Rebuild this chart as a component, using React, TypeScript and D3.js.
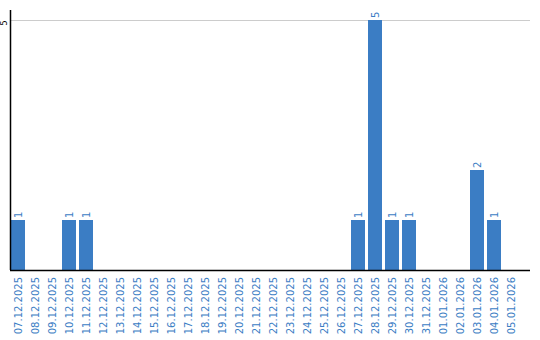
import React from "react";
import * as d3 from "d3";

const categories = [
  "07.12.2025","08.12.2025","09.12.2025","10.12.2025","11.12.2025","12.12.2025",
  "13.12.2025","14.12.2025","15.12.2025","16.12.2025","17.12.2025","18.12.2025",
  "19.12.2025","20.12.2025","21.12.2025","22.12.2025","23.12.2025","24.12.2025",
  "25.12.2025","26.12.2025","27.12.2025","28.12.2025","29.12.2025","30.12.2025",
  "31.12.2025","01.01.2026","02.01.2026","03.01.2026","04.01.2026","05.01.2026",
];
const values = [1,0,0,1,1,0,0,0,0,0,0,0,0,0,0,0,0,0,0,0,1,5,1,1,0,0,0,2,1,0];
const yTicks = [5];

const W = 540, H = 340;
const left = 11, right = 530, top = 10, bottom = 270;
const blue = "#3b7dc4";
const font = "DejaVu Sans, Verdana, sans-serif";

export default function App() {
  const x = d3.scaleBand<string>().domain(categories).range([left, left + 17 * categories.length - 3]).paddingInner(3 / 17).paddingOuter(0).align(0);
  const y = d3.scaleLinear().domain([0, 5]).range([bottom, 20]);
  const bw = x.bandwidth();
  return (
    <svg width={W} height={H} style={{ position: "absolute", left: 0, top: 0 }}>
      {yTicks.map((t) => (
        <g key={t}>
          <line x1={left} x2={right} y1={y(t) + 0.5} y2={y(t) + 0.5} stroke="#cccccc" strokeWidth={1} />
          <text transform={`translate(7,${y(t) + 3}) rotate(-90)`} textAnchor="middle" fontSize={8} fontFamily={font} fill="#000">{t}</text>
        </g>
      ))}
      {categories.map((c, i) => {
        const bx = x(c) as number;
        const cx = bx + bw / 2;
        const v = values[i];
        return (
          <g key={c}>
            {v > 0 && <rect x={bx} y={y(v)} width={bw} height={bottom - y(v)} fill={blue} />}
            {v > 0 && (
              <text transform={`translate(${cx + 4},${y(v) - 2}) rotate(-90)`} textAnchor="start" fontSize={10} fontFamily={font} fill={blue}>{v}</text>
            )}
            <text transform={`translate(${cx + 4},${bottom + 7}) rotate(-90)`} textAnchor="end" fontSize={10} fontFamily={font} fill={blue}>{c}</text>
          </g>
        );
      })}
      <line x1={10.5} x2={10.5} y1={top} y2={bottom} stroke="#000" strokeWidth={1.5} />
      <line x1={10} x2={right} y1={bottom + 0.5} y2={bottom + 0.5} stroke="#000" strokeWidth={1.5} />
    </svg>
  );
}
